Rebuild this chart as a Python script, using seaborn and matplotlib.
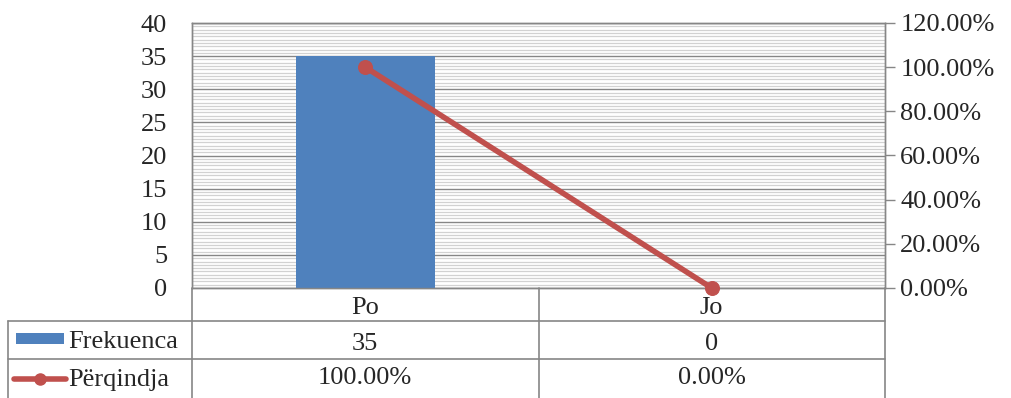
import matplotlib
matplotlib.use('Agg')
import matplotlib.pyplot as plt
from matplotlib.ticker import MultipleLocator, FuncFormatter
from matplotlib.lines import Line2D
from matplotlib.patches import Rectangle
import seaborn as sns
import pandas as pd

# data
kategorite = ['Po', 'Jo']
frekuenca = [35, 0]
perqindja = [1.00, 0.00]
seri_emrat = ['Frekuenca', 'Përqindja']

sns.set_style('white')
plt.rcParams['font.family'] = ['Liberation Serif', 'DejaVu Serif']
fs = 19

blu = '#4F81BD'
kuq = '#C0504D'
gri = '#868686'

df = pd.DataFrame({'kat': kategorite, 'frek': frekuenca, 'perq': perqindja})

fig = plt.figure(figsize=(10.11, 3.98), dpi=100)
ax = fig.add_axes([192/1011, 1-288/398, 693/1011, 265/398])

sns.barplot(data=df, x='kat', y='frek', color=blu, width=0.4, saturation=1,
            linewidth=0, ax=ax, zorder=3)
ax.set_xlim(-0.5, 1.5)
ax.set_ylim(0, 40)
ax.yaxis.set_major_locator(MultipleLocator(5))
ax.yaxis.set_minor_locator(MultipleLocator(0.5))
ax.grid(which='minor', axis='y', color='#D2D2D2', lw=0.9, zorder=0)
ax.grid(which='major', axis='y', color=gri, lw=1.0, zorder=0)
ax.set_axisbelow(True)
ax.set_xlabel('')
ax.set_ylabel('')
ax.set_xticks([])
ax.tick_params(axis='y', which='both', length=0, pad=18, labelsize=fs)
for s in ax.spines.values():
    s.set_color(gri)
    s.set_linewidth(1.0)

ax2 = ax.twinx()
sns.lineplot(data=df, x='kat', y='perq', color=kuq, lw=4, marker='o', markersize=10,
             markeredgecolor=kuq, ax=ax2, zorder=4, clip_on=False)
ax2.set_ylim(0, 1.2)
ax2.set_xlim(-0.5, 1.5)
ax2.yaxis.set_major_locator(MultipleLocator(0.2))
ax2.yaxis.set_major_formatter(FuncFormatter(lambda v, p: f'{v*100:.2f}%'))
ax2.tick_params(axis='y', length=7, width=1, color=gri, pad=4, labelsize=fs)
ax2.set_ylabel('')
ax2.set_xlabel('')
for s in ax2.spines.values():
    s.set_color(gri)
    s.set_linewidth(1.0)

# data table below the plot
tr = ax.transAxes
y0, y1, y2, y3 = 0, -33/265, -71/265, -112/265
xl = (8-192)/693
kw = dict(transform=tr, color=gri, lw=1.2, clip_on=False)
ax.add_line(Line2D([0, 0], [y0, y3], **kw))
ax.add_line(Line2D([0.5, 0.5], [y0, y3], **kw))
ax.add_line(Line2D([1, 1], [y0, y3], **kw))
ax.add_line(Line2D([xl, xl], [y1, y3], **kw))
ax.add_line(Line2D([xl, 1], [y1, y1], **kw))
ax.add_line(Line2D([xl, 1], [y2, y2], **kw))

cx = [0.25, 0.75]
dy = -0.014
for i, k in enumerate(kategorite):
    ax.text(cx[i], (y0+y1)/2 + dy, k, transform=tr, ha='center', va='center', fontsize=fs)
    ax.text(cx[i], (y1+y2)/2 + dy, f'{frekuenca[i]}', transform=tr, ha='center', va='center', fontsize=fs)
    ax.text(cx[i], (y2+y3)/2 + 0.004, f'{perqindja[i]*100:.2f}%', transform=tr, ha='center', va='center', fontsize=fs)

# legend keys in table
ftr = fig.transFigure
fig.patches.append(Rectangle((16/1011, 1-344/398), 48/1011, 11/398, transform=ftr,
                             facecolor=blu, edgecolor='none'))
fig.lines.append(Line2D([14/1011, 66/1011], [1-379/398]*2, transform=ftr, color=kuq, lw=4))
fig.lines.append(Line2D([40/1011], [1-379/398], transform=ftr, color=kuq, marker='o', markersize=8))
fig.text(68/1011, 1-342/398, seri_emrat[0], ha='left', va='center', fontsize=fs)
fig.text(68/1011, 1-380/398, seri_emrat[1], ha='left', va='center', fontsize=fs)

fig.savefig('out.png', dpi=100)
